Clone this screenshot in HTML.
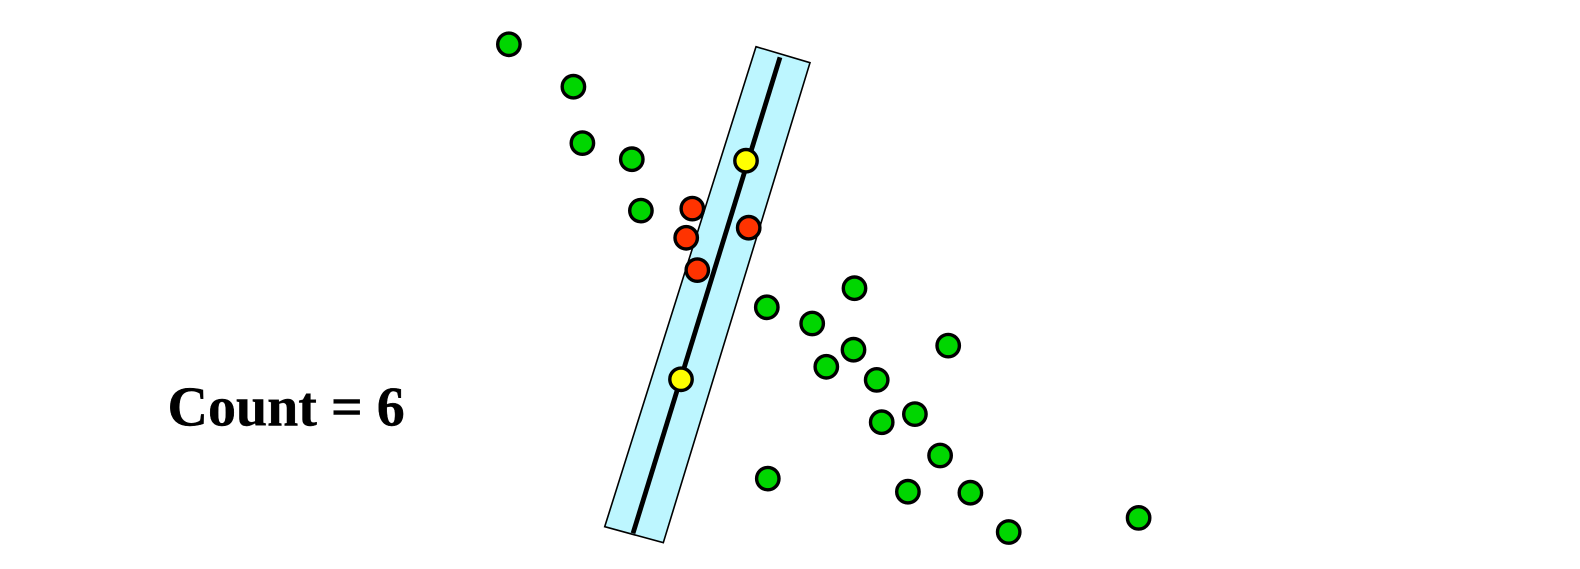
<!DOCTYPE html>
<html lang="en">
<head>
<meta charset="utf-8">
<title>Count = 6</title>
<style>
html,body{margin:0;padding:0;background:#fff;width:1580px;height:569px;overflow:hidden}
svg{display:block}
</style>
</head>
<body>
<svg id="chart" xmlns="http://www.w3.org/2000/svg" width="1580" height="569" viewBox="0 0 1580 569">
  <rect x="0" y="0" width="1580" height="569" fill="#ffffff"/>
  <text x="167.5" y="425.5" font-family="'Liberation Serif', serif" font-weight="bold" font-size="56" fill="#000000" stroke="#000000" stroke-width="0.4">Count = 6</text>
  <g id="marks"></g>
</svg>
<script>
const greenX = [50.89, 57.34, 58.24, 63.18, 64.09, 76.68, 81.22, 85.45, 85.35, 82.63, 87.67, 94.82, 91.49, 88.17, 94.01, 76.78, 90.79, 97.04, 100.87, 113.86];
const greenY = [52.47, 48.23, 42.59, 40.98, 35.84, 26.17, 24.55, 28.08, 21.93, 20.22, 18.91, 22.34, 15.49, 14.68, 11.35, 9.04, 7.73, 7.63, 3.70, 5.11];
const redX = [69.23, 68.62, 69.73, 74.87];
const redY = [36.04, 33.12, 29.89, 34.13];
const yellowX = [74.6, 68.1];
const yellowY = [40.83, 18.97];
const fitLineX = [78.0, 63.3];
const fitLineY = [51.17, 3.57];
const bandX = [75.6, 81.0, 66.33, 60.47];
const bandY = [52.23, 50.63, 2.63, 4.23];

const SVG_NS = 'http://www.w3.org/2000/svg';
const marks = document.getElementById('marks');
const xScale = v => v * 10;
const yScale = v => 569 - v * 10;

function drawBand() {
  const band = document.createElementNS(SVG_NS, 'polygon');
  
  
  band.setAttribute('points', bandX.map((x, i) => xScale(x) + ',' + yScale(bandY[i])).join(' '));
  band.setAttribute('fill', '#bdf6ff');
  band.setAttribute('stroke', '#000000');
  band.setAttribute('stroke-width', '1.6');
  marks.appendChild(band);
}

function drawFitLine() {
  const line = document.createElementNS(SVG_NS, 'line');
  
  
  line.setAttribute('x1', xScale(fitLineX[0]));
  line.setAttribute('y1', yScale(fitLineY[0]));
  line.setAttribute('x2', xScale(fitLineX[1]));
  line.setAttribute('y2', yScale(fitLineY[1]));
  line.setAttribute('stroke', '#000000');
  line.setAttribute('stroke-width', '4.8');
  marks.appendChild(line);
}

function drawPoints(xs, ys, fill, name) {
  xs.forEach((x, i) => {
    const c = document.createElementNS(SVG_NS, 'circle');
    
    
    c.setAttribute('cx', xScale(x));
    c.setAttribute('cy', yScale(ys[i]));
    c.setAttribute('r', '11.2');
    c.setAttribute('fill', fill);
    c.setAttribute('stroke', '#000000');
    c.setAttribute('stroke-width', '3.4');
    marks.appendChild(c);
  });
}

drawBand();
drawFitLine();
drawPoints(greenX, greenY, '#00d600', 'outlier-point');
drawPoints(redX, redY, '#ff3300', 'inlier-point');
drawPoints(yellowX, yellowY, '#ffff00', 'sample-point');
</script>
</body>
</html>
